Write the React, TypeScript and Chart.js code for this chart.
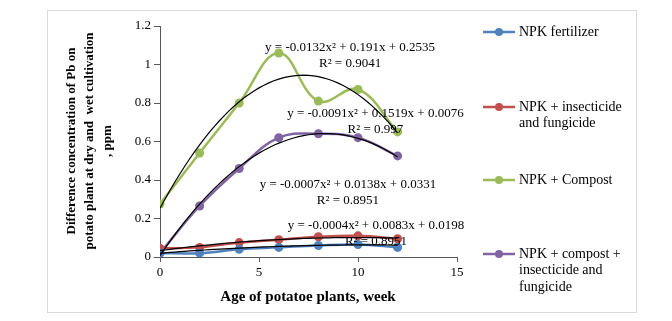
import React, { useEffect, useRef } from "react";
import { Chart, registerables } from "chart.js";

Chart.register(...registerables);

// ---- data ----
const weeks = [0, 2, 4, 6, 8, 10, 12];
const npkFertilizer = [0.02, 0.02, 0.04, 0.05, 0.06, 0.065, 0.05];
const npkInsecticideFungicide = [0.045, 0.05, 0.075, 0.09, 0.105, 0.11, 0.095];
const npkCompost = [0.275, 0.54, 0.8, 1.06, 0.81, 0.87, 0.65];
const npkCompostInsecticideFungicide = [0.02, 0.265, 0.46, 0.62, 0.64, 0.62, 0.525];

const seriesLabels = [
  ["NPK fertilizer"],
  ["NPK + insecticide", "and fungicide"],
  ["NPK + Compost"],
  ["NPK + compost +", "insecticide and", "fungicide"],
];

// polynomial trendline coefficients [a, b, c] for y = a·x² + b·x + c
const fitFertilizer = [-0.0004, 0.0083, 0.0198];
const fitInsecticideFungicide = [-0.0007, 0.0138, 0.0331];
const fitCompost = [-0.0132, 0.191, 0.2535];
const fitCompostInsecticideFungicide = [-0.0091, 0.1519, 0.0076];

const fitEquations = [
  "y = -0.0004x² + 0.0083x + 0.0198",
  "y = -0.0007x² + 0.0138x + 0.0331",
  "y = -0.0132x² + 0.191x + 0.2535",
  "y = -0.0091x² + 0.1519x + 0.0076",
];
const fitR2 = ["R² = 0.8951", "R² = 0.8951", "R² = 0.9041", "R² = 0.997"];

const xTitle = "Age of potatoe plants, week";
const yTitle = ["Difference concentration of Pb on", "potato plant at dry and  wet cultivation", ", ppm"];

// ---- styles / layout ----
const colors = ["#4F81BD", "#C0504D", "#9BBB59", "#8064A2"];
const SERIF = "'Liberation Serif', 'Times New Roman', serif";
const AXIS = "#595959";
// equation label anchors in data units (x, y)
const eqAnchors = [
  [10.91, 0.161],
  [9.49, 0.374],
  [9.6, 1.086],
  [10.88, 0.743],
];
const legendRows = [32, 107, 180, 254];

function trendPoints(coef: number[], x0: number, x1: number) {
  const pts: { x: number; y: number }[] = [];
  const steps = 48;
  for (let i = 0; i <= steps; i++) {
    const x = x0 + ((x1 - x0) * i) / steps;
    pts.push({ x, y: coef[0] * x * x + coef[1] * x + coef[2] });
  }
  return pts;
}

const decorPlugin = {
  id: "decor",
  afterDraw(chart: any) {
    const ctx = chart.ctx as CanvasRenderingContext2D;
    const xs = chart.scales.x;
    const ys = chart.scales.y;
    ctx.save();
    // frame
    ctx.strokeStyle = "#d9d9d9";
    ctx.lineWidth = 1;
    ctx.strokeRect(47.5, 10.5, 589, 302);

    // equations
    ctx.fillStyle = "#000";
    ctx.font = `13px ${SERIF}`;
    ctx.textAlign = "center";
    ctx.textBaseline = "middle";
    eqAnchors.forEach((a, i) => {
      const px = xs.getPixelForValue(a[0]);
      const py = ys.getPixelForValue(a[1]);
      ctx.fillText(fitEquations[i], px, py);
      ctx.fillText(fitR2[i], px, py + 15.5);
    });

    // axis titles
    ctx.font = `bold 15px ${SERIF}`;
    ctx.fillText(xTitle, 308, 297);
    ctx.save();
    ctx.translate(90, 141);
    ctx.rotate(-Math.PI / 2);
    ctx.font = `bold 13px ${SERIF}`;
    yTitle.forEach((t, i) => ctx.fillText(t, 0, -18 + i * 18));
    ctx.restore();

    // legend
    ctx.textAlign = "left";
    ctx.font = `14px ${SERIF}`;
    legendRows.forEach((y, i) => {
      ctx.strokeStyle = colors[i];
      ctx.lineWidth = 2.5;
      ctx.beginPath();
      ctx.moveTo(483, y);
      ctx.lineTo(515, y);
      ctx.stroke();
      ctx.fillStyle = colors[i];
      ctx.beginPath();
      ctx.arc(499, y, 4, 0, Math.PI * 2);
      ctx.fill();
      ctx.fillStyle = "#000";
      seriesLabels[i].forEach((t, j) => ctx.fillText(t, 519, y + j * 16.5));
    });
    ctx.restore();
  },
};

export default function App() {
  const ref = useRef<HTMLCanvasElement>(null);
  useEffect(() => {
    if (!ref.current) return;
    const seriesData = [npkFertilizer, npkInsecticideFungicide, npkCompost, npkCompostInsecticideFungicide];
    const fits = [fitFertilizer, fitInsecticideFungicide, fitCompost, fitCompostInsecticideFungicide];
    const datasets: any[] = [];
    seriesData.forEach((vals, i) => {
      datasets.push({
        label: seriesLabels[i].join(" "),
        data: weeks.map((w, k) => ({ x: w, y: vals[k] })),
        borderColor: colors[i],
        backgroundColor: colors[i],
        borderWidth: 2.5,
        pointRadius: 4.5,
        pointBorderWidth: 0,
        tension: 0.4,
        order: 2,
      });
    });
    fits.forEach((c, i) => {
      datasets.push({
        label: "fit " + i,
        data: trendPoints(c, weeks[0], weeks[weeks.length - 1]),
        borderColor: "#000",
        borderWidth: 1.2,
        pointRadius: 0,
        tension: 0,
        order: 1,
      });
    });
    const chart = new Chart(ref.current, {
      type: "line",
      data: { datasets },
      options: {
        animation: false,
        responsive: false,
        devicePixelRatio: 1,
        layout: { padding: { left: 0, top: 26, right: 215, bottom: 0 } },
        plugins: { legend: { display: false }, tooltip: { enabled: false } },
        scales: {
          x: {
            type: "linear",
            min: 0,
            max: 15,
            ticks: { stepSize: 5, color: "#000", font: { family: SERIF, size: 13 }, padding: 3 },
            grid: { drawOnChartArea: false, drawTicks: true, tickLength: 5, color: AXIS },
            border: { display: true, color: AXIS, width: 1 },
            afterFit: (s: any) => { s.height = 64; },
          },
          y: {
            min: 0,
            max: 1.2,
            ticks: {
              stepSize: 0.2,
              color: "#000",
              font: { family: SERIF, size: 13 },
              padding: 3,
              callback: (v: any) => String(Number(Number(v).toFixed(2))),
            },
            grid: { drawOnChartArea: false, drawTicks: true, tickLength: 6, color: AXIS },
            border: { display: true, color: AXIS, width: 1 },
            afterFit: (s: any) => { s.width = 160; },
          },
        },
      },
      plugins: [decorPlugin],
    });
    return () => chart.destroy();
  }, []);
  return (
    <div style={{ position: "absolute", left: 0, top: 0, width: 672, height: 321, background: "#fff" }}>
      <canvas ref={ref} width={672} height={321} />
    </div>
  );
}
